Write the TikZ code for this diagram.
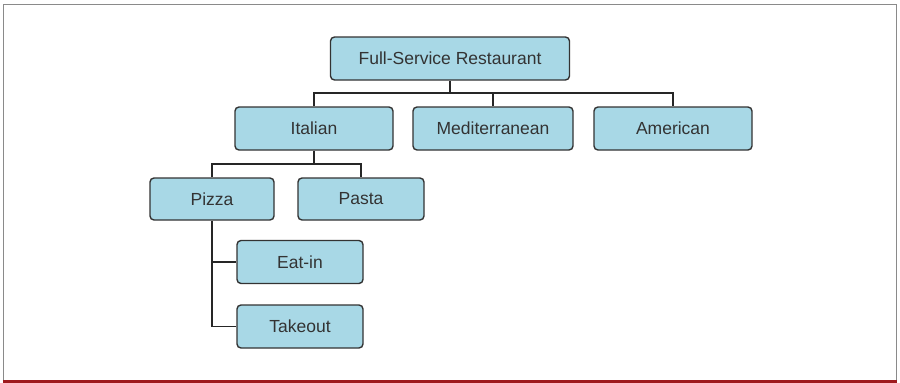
\documentclass[tikz,border=0pt]{standalone}
\usepackage{fontspec}
\setmainfont{Liberation Sans}
\definecolor{boxfill}{HTML}{A8D8E6}
\definecolor{boxline}{HTML}{333333}
\definecolor{framegray}{HTML}{8A8A8A}
\definecolor{framered}{HTML}{9E1A1E}
\begin{document}
\begin{tikzpicture}[x=1pt,y=-1pt,
  catbox/.style={draw=boxline, line width=1.4pt, fill=boxfill, rounded corners=4pt,
    minimum height=43pt, inner sep=0pt, font=\fontsize{17.5}{19}\selectfont, text=black!80},
  link/.style={draw=black!85, line width=1.4pt}]
\useasboundingbox (0,0) rectangle (900,383);
\draw[framegray, line width=1.5pt] (3.5,381) -- (3.5,4.5) -- (896.5,4.5) -- (896.5,381);
\draw[framered, line width=2.5pt] (2.75,381.5) -- (897.25,381.5);

\node[catbox, minimum width=239pt] (root) at (450,58.5) {Full-Service Restaurant};
\node[catbox, minimum width=158pt] (ital) at (314,128.5) {Italian};
\node[catbox, minimum width=160pt] (med) at (493,128.5) {Mediterranean};
\node[catbox, minimum width=158pt] (amer) at (673,128.5) {American};
\node[catbox, minimum width=124pt, minimum height=42pt] (pizza) at (212,199) {Pizza};
\node[catbox, minimum width=126pt, minimum height=42pt] (pasta) at (361,199) {Pasta};
\node[catbox, minimum width=126pt] (eat) at (300,262) {Eat-in};
\node[catbox, minimum width=126pt] (take) at (300,326.5) {Takeout};

\coordinate (bus1) at (450,93);
\coordinate (bus2) at (314,164);

\draw[link] (root.south) -- (bus1);
\draw[link] (ital.north) |- (bus1 -| amer.north) -- (amer.north);
\draw[link] (med.north) -- (med.north |- bus1);
\draw[link] (ital.south) -- (bus2);
\draw[link] (pizza.north) |- (bus2 -| pasta.north) -- (pasta.north);
\draw[link] (pizza.south) |- (take.west);
\draw[link] (pizza.south |- eat.west) -- (eat.west);
\end{tikzpicture}
\end{document}
